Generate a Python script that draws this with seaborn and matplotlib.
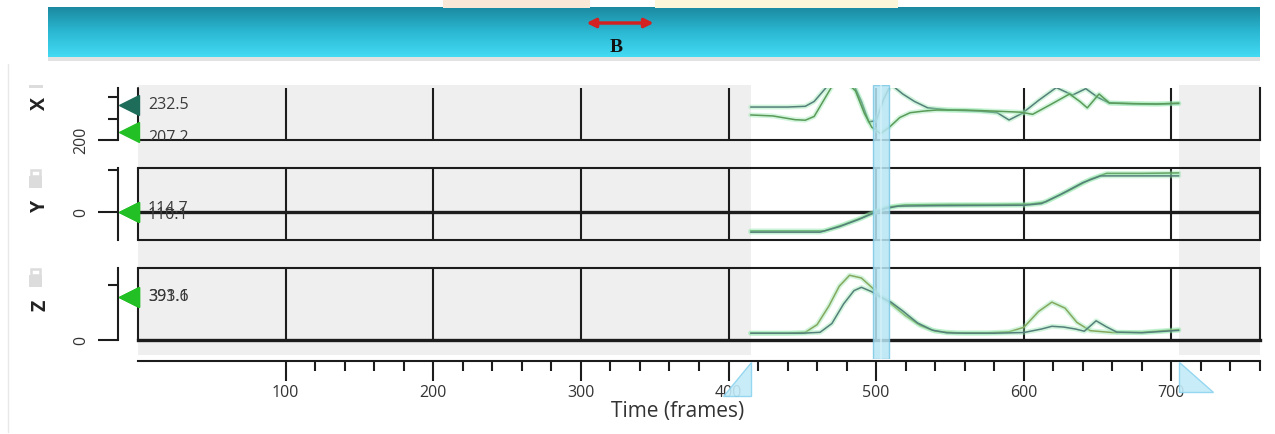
import numpy as np
import pandas as pd
import seaborn as sns
import matplotlib.pyplot as plt
from matplotlib import transforms
from matplotlib.patches import Polygon, Rectangle
from matplotlib.lines import Line2D
from matplotlib.colors import LinearSegmentedColormap
from matplotlib.ticker import FixedLocator, NullFormatter

# curves (frame -> value)
x_dark_frames = [415, 440, 452, 458, 463, 468, 476, 484, 490, 495, 500, 505, 510, 518, 526, 535, 550, 570, 582, 590, 599, 610, 622, 633, 642, 650, 658, 675, 690, 705]
x_dark_values = [230.8, 230.8, 231.5, 236, 244, 252, 258, 254, 236, 217, 218, 238, 252, 243, 236, 230, 228, 227, 225.5, 218.7, 225, 237, 249, 242, 248, 240, 234.5, 233.8, 233.6, 234]
x_green_frames = [415, 430, 445, 452, 458, 464, 470, 478, 486, 492, 497, 503, 509, 516, 523, 532, 541, 560, 580, 598, 606, 618, 631, 638, 643, 651, 658, 675, 690, 705]
x_green_values = [223.4, 222.5, 219, 218.5, 222, 236, 250, 256, 246, 225, 212, 206, 212, 221, 225.5, 227, 228, 228, 227, 226, 224, 233, 243, 236, 230, 243, 234.6, 234, 233.6, 234.5]

y_dark_frames = [415, 440, 462, 475, 488, 500, 506, 515, 540, 570, 600, 612, 625, 640, 652, 670, 705]
y_dark_values = [-48, -48, -48, -35, -18, 0, 8, 14, 15, 15.5, 16, 20, 42, 70, 86, 86, 86]
y_green_frames = [415, 440, 465, 478, 490, 500, 508, 520, 550, 580, 605, 615, 630, 645, 656, 680, 705]
y_green_values = [-45, -45, -45, -30, -14, 2, 12, 17, 18, 18, 19, 24, 50, 78, 92, 92, 93]

z_green_frames = [415, 440, 452, 460, 468, 475, 482, 490, 497, 503, 510, 520, 530, 540, 555, 575, 590, 600, 610, 619, 628, 636, 645, 660, 680, 705]
z_green_values = [62, 62, 70, 140, 310, 490, 590, 565, 480, 400, 330, 220, 130, 80, 65, 65, 75, 115, 260, 345, 290, 160, 85, 68, 70, 95]
z_dark_frames = [415, 450, 462, 470, 478, 485, 490, 497, 503, 510, 518, 528, 538, 548, 560, 580, 600, 612, 619, 627, 635, 641, 649, 656, 663, 680, 705]
z_dark_values = [62, 62, 70, 150, 330, 450, 480, 440, 390, 345, 265, 155, 90, 65, 62, 62, 68, 100, 125, 118, 100, 80, 175, 120, 72, 66, 88]

# key markers on the left of each track
x_key_labels = ['232.5', '207.2']
x_key_values = [232.5, 207.2]
y_key_labels = ['114.7', '110.1']
y_key_values = [0, 0]
z_key_labels = ['393.1', '391.6']
z_key_values = [393.1, 391.6]

tick_frames = [100, 200, 300, 400, 500, 600, 700]
active_range = [415, 705]
current_frame = [498, 509]

sns.set_style('white')
plt.rcParams['font.family'] = ['Open Sans', 'DejaVu Sans']

W, H = 1275, 434
fig = plt.figure(figsize=(W / 100, H / 100), dpi=100)


def box(x0, y0, x1, y1):
    return [x0 / W, 1 - y1 / H, (x1 - x0) / W, (y1 - y0) / H]


XL, XR = 138, 1260
XMAX = 760
INK = '#1c1c1c'

# banner on top
fig.add_artist(Rectangle((443 / W, 1 - 8 / H), 147 / W, 8 / H, transform=fig.transFigure, color='#fbe8d6', lw=0))
fig.add_artist(Rectangle((655 / W, 1 - 8 / H), 243 / W, 8 / H, transform=fig.transFigure, color='#fdf6d8', lw=0))
fig.add_artist(Rectangle((48 / W, 1 - 61 / H), 1212 / W, 4 / H, transform=fig.transFigure, color='#e2e2e2', lw=0))
ban = fig.add_axes(box(48, 7, 1260, 57))
grad = np.linspace(0, 1, 100).reshape(-1, 1)
ban.imshow(grad, aspect='auto', extent=[0, 1, 0, 1],
           cmap=LinearSegmentedColormap.from_list('banner', ['#1b8aa0', '#2bb8d3', '#43daf3']))
ban.set_axis_off()
ban.annotate('', xy=(0.502, 0.68), xytext=(0.442, 0.68), xycoords='axes fraction',
             arrowprops=dict(arrowstyle='<|-|>', color='#d42222', lw=2.5, mutation_scale=13))
ban.text(0.469, 0.2, 'B', transform=ban.transAxes, ha='center', va='center',
         fontsize=14, fontweight='bold', family='Liberation Serif', color='#111111')

# faint frame line on the left
fig.add_artist(Line2D([8 / W, 8 / W], [1 - 64 / H, 1 - 432 / H], transform=fig.transFigure, color='#e8e8e8', lw=1))

# shaded background for the inactive frame ranges
bg = fig.add_axes(box(XL, 85, XR, 355), zorder=0)
bg.set_xlim(0, XMAX)
bg.axvspan(0, active_range[0], color='#efefef', lw=0)
bg.axvspan(active_range[1], XMAX, color='#efefef', lw=0)
bg.set_axis_off()


def draw_curve(ax, frames, values, core):
    df = pd.DataFrame({'frame': frames, 'value': values})
    sns.lineplot(data=df, x='frame', y='value', ax=ax, color='#8de6a8', lw=3.5, alpha=0.4)
    sns.lineplot(data=df, x='frame', y='value', ax=ax, color=core, lw=1.1)


def make_track(rect, ylim, major, minor, tick_text, top_spine=True):
    ax = fig.add_axes(rect, zorder=1)
    ax.set_facecolor('none')
    ax.set_xlim(0, XMAX)
    ax.set_ylim(*ylim)
    for s in ['top', 'right', 'bottom', 'left']:
        ax.spines[s].set_color(INK)
        ax.spines[s].set_linewidth(1.5)
    ax.spines['top'].set_visible(top_spine)
    ax.spines['left'].set_position(('outward', 14.4))
    ax.axvline(0, color=INK, lw=1.5, clip_on=False)
    for f in tick_frames:
        ax.axvline(f, color=INK, lw=1.5)
    ax.set_xticks([])
    ax.yaxis.set_major_locator(FixedLocator([major]))
    ax.yaxis.set_minor_locator(FixedLocator(minor))
    ax.yaxis.set_minor_formatter(NullFormatter())
    ax.set_yticklabels([tick_text], rotation=90, va='center', color='#333333', fontsize=11.5)
    ax.tick_params(axis='y', which='major', length=14.4, width=1.5, color=INK, pad=6, left=True)
    ax.tick_params(axis='y', which='minor', length=7.2, width=1.5, color=INK, left=True)
    return ax


def draw_keys(ax, labels, values, colors, offsets):
    tr = transforms.blended_transform_factory(ax.transAxes, ax.transData)
    for lab, val, col, off in zip(labels, values, colors, offsets):
        ax.plot([-9 / (XR - XL)], [val], marker='<', ms=15, color=col, mec=col,
                transform=tr, clip_on=False, zorder=6)
        ax.text(10 / (XR - XL), val + off, lab, transform=tr, ha='left', va='center',
                fontsize=11.5, color='#3a3a3a', clip_on=True)


# X track
ax_x = make_track(box(XL, 88, XR, 140), (200, 248.6), 200, [220, 240], '200', top_spine=False)
draw_curve(ax_x, x_dark_frames, x_dark_values, '#557f7a')
draw_curve(ax_x, x_green_frames, x_green_values, '#5b9a58')
draw_keys(ax_x, x_key_labels, x_key_values, ['#1e6d5b', '#22c024'], [0, -5])
ax_x.set_xlabel('')
ax_x.set_ylabel('')

# Y track
ax_y = make_track(box(XL, 168, XR, 240), (-66.7, 104.8), 0, [100], '0')
ax_y.axhline(0, color=INK, lw=2.4)
draw_curve(ax_y, y_green_frames, y_green_values, '#5b9a58')
draw_curve(ax_y, y_dark_frames, y_dark_values, '#557f7a')
draw_keys(ax_y, y_key_labels, y_key_values, ['#22c024', '#22c024'], [8, -7])
ax_y.set_xlabel('')
ax_y.set_ylabel('')

# Z track
ax_z = make_track(box(XL, 268, XR, 340), (0, 656), 0, [500], '0')
ax_z.spines['bottom'].set_linewidth(2.4)
draw_curve(ax_z, z_green_frames, z_green_values, '#86a85e')
draw_curve(ax_z, z_dark_frames, z_dark_values, '#557f7a')
draw_keys(ax_z, z_key_labels, z_key_values, ['#22c024', '#22c024'], [0, 0])
ax_z.set_xlabel('')
ax_z.set_ylabel('')

# track names and lock icons
for name, ypx in [('X', 103), ('Y', 206), ('Z', 305)]:
    fig.text(40 / W, 1 - ypx / H, name, rotation=90, ha='center', va='center',
             fontsize=14, fontweight='bold', color='#222222')
fig.add_artist(Rectangle((29 / W, 1 - 88 / H), 14 / W, 3 / H, transform=fig.transFigure, color='#dcdcdc', lw=0))
for top in [167, 266]:
    fig.add_artist(Rectangle((29 / W, 1 - (top + 21) / H), 13 / W, 12 / H,
                             transform=fig.transFigure, color='#dcdcdc', lw=0))
    fig.add_artist(Rectangle((31.5 / W, 1 - (top + 9) / H), 8 / W, 6 / H,
                             transform=fig.transFigure, fill=False, ec='#dcdcdc', lw=1.8))

# time axis
axt = fig.add_axes(box(XL, 351, XR, 361), zorder=2)
axt.set_facecolor('none')
axt.set_xlim(0, XMAX)
axt.set_yticks([])
for s in ['top', 'right', 'left']:
    axt.spines[s].set_visible(False)
axt.spines['bottom'].set_color(INK)
axt.spines['bottom'].set_linewidth(1.5)
axt.xaxis.set_major_locator(FixedLocator(tick_frames))
axt.xaxis.set_minor_locator(FixedLocator([f for f in range(120, XMAX + 1, 20) if f % 100]))
axt.set_xticklabels([str(f) for f in tick_frames], fontsize=11.5, color='#333333')
axt.tick_params(axis='x', which='major', length=14.4, width=1.5, color=INK, pad=3, bottom=True)
axt.tick_params(axis='x', which='minor', length=7.2, width=1.5, color=INK, bottom=True)
axt.set_xlabel('Time (frames)', fontsize=15, color='#333333')
axt.xaxis.set_label_coords(678 / W, 1 - 411 / H, transform=fig.transFigure)
axt.xaxis.label.set_va('center')

# active range handles
tri = transforms.blended_transform_factory(axt.transData, fig.transFigure)
axt.add_patch(Polygon([(active_range[0], 1 - 362 / H), (active_range[0], 1 - 396 / H), (396, 1 - 396 / H)],
                      closed=True, transform=tri, fc='#c4ecf8', ec='#8dd3ef', lw=1, alpha=0.9, clip_on=False, zorder=8))
axt.add_patch(Polygon([(active_range[1], 1 - 362 / H), (active_range[1], 1 - 392 / H), (728, 1 - 392 / H)],
                      closed=True, transform=tri, fc='#c4ecf8', ec='#8dd3ef', lw=1, alpha=0.9, clip_on=False, zorder=8))

# current frame marker
ov = fig.add_axes(box(XL, 85, XR, 359), zorder=5)
ov.set_facecolor('none')
ov.set_xlim(0, XMAX)
ov.axvspan(current_frame[0], current_frame[1], fc='#b7e5f4', ec='#7cc8e4', lw=1, alpha=0.85)
ov.axvline(sum(current_frame) / 2, color='#d6f2fb', lw=1.2, alpha=0.8)
ov.set_axis_off()

fig.savefig('out.png', dpi=100)
